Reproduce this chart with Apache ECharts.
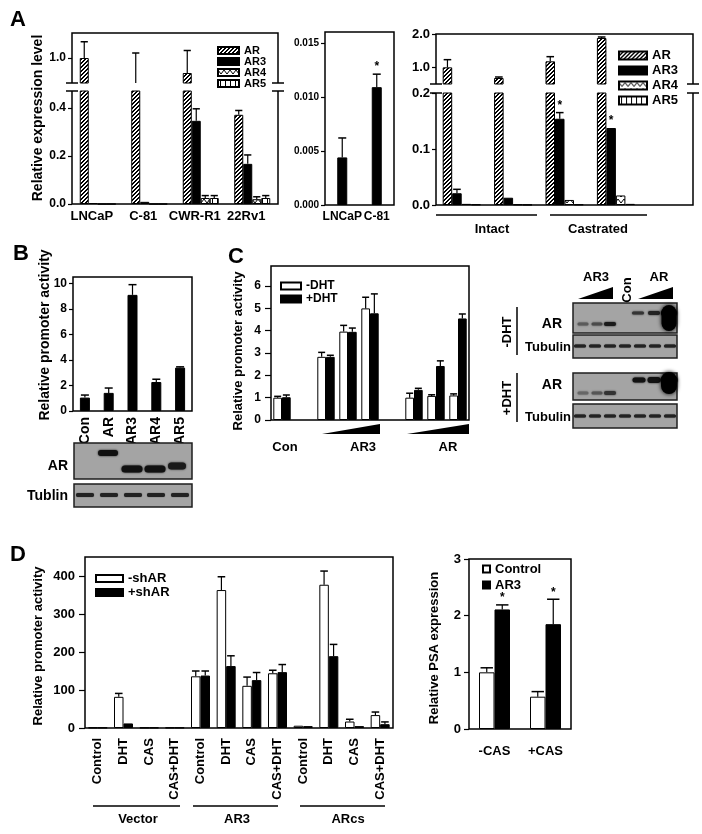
<!DOCTYPE html>
<html><head><meta charset="utf-8">
<script src="https://cdn.jsdelivr.net/npm/echarts@6/dist/echarts.min.js"></script>
<style>html,body{margin:0;padding:0;background:#fff}#c{width:702px;height:834px}</style>
</head><body><div id="c"></div><script>
// ---------------- DATA ----------------
const A1_categories = ['LNCaP', 'C-81', 'CWR-R1', '22Rv1'];
const A1_AR = [1.0, 0.80, 0.88, 0.371];
const A1_AR_err = [0.13, 0.24, 0.18, 0.018];
const A1_AR3 = [0.004, 0.009, 0.346, 0.167];
const A1_AR3_err = [0, 0, 0.05, 0.037];
const A1_AR4 = [0, 0, 0.025, 0.02];
const A1_AR4_err = [0, 0, 0.01, 0.01];
const A1_AR5 = [0, 0, 0.025, 0.025];
const A1_AR5_err = [0, 0, 0.01, 0.01];
const A1_upperTicks = [1.0];
const A1_lowerTicks = [0, 0.2, 0.4];

const A2_categories = ['LNCaP', 'C-81'];
const A2_AR3 = [0.0044, 0.0109];
const A2_AR3_err = [0.0018, 0.0012];
const A2_stars = [0, 1];
const A2_ticks = [0, 0.005, 0.010, 0.015];

const A3_categories = ['Intact-1', 'Intact-2', 'Castrated-1', 'Castrated-2', ''];
const A3_AR = [1.0, 0.68, 1.18, 1.88];
const A3_AR_err = [0.23, 0.03, 0.14, 0.03];
const A3_AR3 = [0.021, 0.013, 0.154, 0.1375];
const A3_AR3_err = [0.007, 0, 0.011, 0];
const A3_AR3_stars = [0, 0, 1, 1];
const A3_AR4 = [0.002, 0.001, 0.009, 0.017];
const A3_AR5 = [0.001, 0.0005, 0.001, 0.002];
const A3_zero = [0, 0, 0, 0];
const A3_upperTicks = [1.0, 2.0];
const A3_lowerTicks = [0, 0.1, 0.2];
const A3_groups = ['Intact', 'Castrated'];

const B_categories = ['Con', 'AR', 'AR3', 'AR4', 'AR5'];
const B_values = [1.05, 1.42, 9.1, 2.27, 3.4];
const B_err = [0.2, 0.38, 0.8, 0.22, 0.06];
const B_ticks = [0, 2, 4, 6, 8, 10];

const C_categories = ['Con', '', 'AR3-1', 'AR3-2', 'AR3-3', '', 'AR-1', 'AR-2', 'AR-3'];
const C_minusDHT = [1.0, null, 2.83, 3.96, 5.0, null, 1.0, 1.08, 1.1];
const C_minusDHT_err = [0.06, 0, 0.2, 0.28, 0.5, 0, 0.2, 0.05, 0.07];
const C_plusDHT = [1.02, null, 2.83, 3.95, 4.78, null, 1.35, 2.42, 4.55];
const C_plusDHT_err = [0.1, 0, 0.07, 0.17, 0.87, 0, 0.07, 0.23, 0.2];
const C_ticks = [0, 1, 2, 3, 4, 5, 6];

const D1_categories = ['Control', 'DHT', 'CAS', 'CAS+DHT', 'Control', 'DHT', 'CAS', 'CAS+DHT', 'Control', 'DHT', 'CAS', 'CAS+DHT'];
const D1_minusShAR = [1, 82, 1, 1, 136, 363, 111, 144, 6, 377, 17, 34];
const D1_minusShAR_err = [0, 9, 0, 0, 14, 35, 23, 8, 0, 36, 6, 8];
const D1_plusShAR = [1, 12, 1, 1, 138, 163, 126, 147, 5, 189, 5, 10];
const D1_plusShAR_err = [0, 0, 0, 0, 12, 27, 20, 20, 0, 31, 0, 6];
const D1_ticks = [0, 100, 200, 300, 400];
const D1_groups = ['Vector', 'AR3', 'ARcs'];

const D2_categories = ['-CAS', '+CAS'];
const D2_control = [1.0, 0.57];
const D2_control_err = [0.08, 0.09];
const D2_AR3 = [2.11, 1.85];
const D2_AR3_err = [0.08, 0.44];
const D2_stars = [1, 1];
const D2_ticks = [0, 1, 2, 3];

// ---------------- STYLE / LAYOUT ----------------
const F = '"Liberation Sans", Arial, Helvetica, sans-serif';
const LY = {
  a1u: {left: 72, top: 33, width: 206, height: 50},
  a1l: {left: 72, top: 91, width: 206, height: 113},
  a2:  {left: 325, top: 32, width: 69, height: 173},
  a3u: {left: 436, top: 34, width: 257, height: 50},
  a3l: {left: 436, top: 93, width: 257, height: 112},
  b:   {left: 73, top: 277, width: 119, height: 134},
  c:   {left: 271, top: 266, width: 198, height: 154},
  d1:  {left: 85, top: 557, width: 308, height: 171},
  d2:  {left: 469, top: 559, width: 102, height: 170}
};
const gridOrder = ['a1u', 'a1l', 'a2', 'a3u', 'a3l', 'b', 'c', 'd1', 'd2'];
const framed = {a2: 1, b: 1, c: 1, d1: 1, d2: 1};

function pat(w, h, draw) {
  const c = document.createElement('canvas'); c.width = w; c.height = h;
  const g = c.getContext('2d');
  g.fillStyle = '#fff'; g.fillRect(0, 0, w, h);
  g.fillStyle = '#000'; g.strokeStyle = '#000';
  draw(g);
  return {image: c, repeat: 'repeat'};
}
const PAT = {
  hatch: pat(4, 4, g => { for (let i = 0; i < 4; i++) { g.fillRect(i, 3 - i, 1, 1); g.fillRect(i, (4 - i) % 4, 1, 1); } }),
  zig: pat(6, 6, g => { g.lineWidth = 1; g.beginPath(); g.moveTo(0, 1); g.lineTo(3, 5); g.lineTo(6, 1); g.stroke(); }),
  vert: pat(5, 5, g => { g.fillRect(2, 0, 1, 5); })
};

const grids = gridOrder.map(k => Object.assign({
  show: !!framed[k], borderColor: '#000', borderWidth: 1.5, backgroundColor: 'transparent',
  containLabel: false, outerBoundsMode: 'none'
}, LY[k]));

function xAx(gi, data, label) {
  return {type: 'category', gridIndex: gi, data,
    axisLine: {show: false}, axisTick: {show: false}, splitLine: {show: false},
    axisLabel: label ? Object.assign({show: true, interval: 0, color: '#000', fontFamily: F, fontWeight: 'bold'}, label) : {show: false}};
}
function yAx(gi, o) {
  return {type: 'value', gridIndex: gi, min: o.min, max: o.max,
    splitLine: {show: false},
    axisLine: {show: false},
    axisTick: {show: true, inside: false, length: o.tl || 4, lineStyle: {color: '#000', width: 1.2}, customValues: o.cv},
    axisLabel: {show: true, margin: o.margin, color: '#000', fontFamily: F, fontWeight: 'bold', fontSize: o.fs,
      formatter: o.fmt, customValues: o.cv}};
}
const f1 = v => (+v).toFixed(1), f3 = v => (+v).toFixed(3), f0 = v => String(Math.round(v));

const xAxes = [
  xAx(0, A1_categories),
  xAx(1, A1_categories, {fontSize: 13, margin: 6, padding: [0, 12, 0, 0]}),
  xAx(2, A2_categories, {fontSize: 12, margin: 6}),
  xAx(3, A3_categories),
  xAx(4, A3_categories),
  xAx(5, B_categories, {fontSize: 14, margin: 6, rotate: 90}),
  xAx(6, C_categories),
  xAx(7, D1_categories, {fontSize: 13, margin: 10, rotate: 90}),
  xAx(8, D2_categories, {fontSize: 13, margin: 16})
];
const yAxes = [
  yAx(0, {min: 0.8, max: 1.2, cv: A1_upperTicks, fmt: f1, fs: 12, margin: 6}),
  yAx(1, {min: 0, max: 0.47, cv: A1_lowerTicks, fmt: f1, fs: 12, margin: 6}),
  yAx(2, {min: 0, max: 0.016, cv: A2_ticks, fmt: f3, fs: 10, margin: 6}),
  yAx(3, {min: 0.5, max: 2.0, cv: A3_upperTicks, fmt: f1, fs: 13, margin: 6}),
  yAx(4, {min: 0, max: 0.2, cv: A3_lowerTicks, fmt: f1, fs: 13, margin: 6}),
  yAx(5, {min: 0, max: 10.5, cv: B_ticks, fmt: f0, fs: 12, margin: 6}),
  yAx(6, {min: 0, max: 6.9, cv: C_ticks, fmt: f0, fs: 12, margin: 10, tl: 6}),
  yAx(7, {min: 0, max: 450, cv: D1_ticks, fmt: f0, fs: 13, margin: 10, tl: 6}),
  yAx(8, {min: 0, max: 3, cv: D2_ticks, fmt: f0, fs: 13, margin: 8, tl: 5})
];

function bar(name, gi, data, color, bw) {
  return {type: 'bar', name, xAxisIndex: gi, yAxisIndex: gi, data, barWidth: bw, barGap: '0%',
    clip: true, itemStyle: {color, borderColor: '#000', borderWidth: 1}, emphasis: {disabled: true}, silent: true};
}
function err(gi, vals, errs, k, n, bw, lo, hi, stars) {
  return {type: 'custom', xAxisIndex: gi, yAxisIndex: gi, clip: false, z: 5, silent: true,
    data: vals.map((v, i) => [i, v == null ? NaN : v, errs ? (errs[i] || 0) : 0, stars ? (stars[i] || 0) : 0]),
    renderItem(params, api) {
      const x = api.value(0), v = api.value(1), e = api.value(2), s = api.value(3);
      if (isNaN(v) || v < lo || v > hi) return null;
      const p0 = api.coord([x, v]), p1 = api.coord([x, v + e]);
      const cx = p0[0] + (k - (n - 1) / 2) * bw;
      const cw = bw * 0.4;
      const ch = [];
      if (e > 0) {
        ch.push({type: 'line', shape: {x1: cx, y1: p0[1], x2: cx, y2: p1[1]}, style: {stroke: '#000', lineWidth: 1.2}});
        ch.push({type: 'line', shape: {x1: cx - cw, y1: p1[1], x2: cx + cw, y2: p1[1]}, style: {stroke: '#000', lineWidth: 1.5}});
      }
      if (s) ch.push({type: 'text', style: {text: '*', x: cx, y: p1[1] - 1, align: 'center', verticalAlign: 'bottom',
        font: 'bold 12px ' + F, fill: '#000'}});
      return {type: 'group', children: ch};
    }};
}

const series = [];
// A1 (broken axis)
const A1s = [['AR', A1_AR, A1_AR_err, PAT.hatch], ['AR3', A1_AR3, A1_AR3_err, '#000'],
             ['AR4', A1_AR4, A1_AR4_err, PAT.zig], ['AR5', A1_AR5, A1_AR5_err, PAT.vert]];
[0, 1].forEach(gi => A1s.forEach(s => series.push(bar(s[0], gi, s[1], s[3], 9))));
A1s.forEach((s, k) => { series.push(err(0, s[1], s[2], k, 4, 9, 0.8, 1.2)); series.push(err(1, s[1], s[2], k, 4, 9, 0, 0.47)); });
// A2
series.push(bar('AR3', 2, A2_AR3, '#000', 10));
series.push(err(2, A2_AR3, A2_AR3_err, 0, 1, 10, 0, 1, A2_stars));
// A3 (broken axis)
const A3s = [['AR', A3_AR, A3_AR_err, PAT.hatch, null], ['AR3', A3_AR3, A3_AR3_err, '#000', A3_AR3_stars],
             ['AR4', A3_AR4, A3_zero, PAT.zig, null], ['AR5', A3_AR5, A3_zero, PAT.vert, null]];
[3, 4].forEach(gi => A3s.forEach(s => series.push(bar(s[0], gi, s[1], s[3], 9.5))));
A3s.forEach((s, k) => { series.push(err(3, s[1], s[2], k, 4, 9.5, 0.5, 2.0, s[4])); series.push(err(4, s[1], s[2], k, 4, 9.5, 0, 0.2, s[4])); });
// B
series.push(bar('Promoter activity', 5, B_values, '#000', 10));
series.push(err(5, B_values, B_err, 0, 1, 10, 0, 100));
// C
series.push(bar('-DHT', 6, C_minusDHT, '#fff', 8.7));
series.push(bar('+DHT', 6, C_plusDHT, '#000', 8.7));
series.push(err(6, C_minusDHT, C_minusDHT_err, 0, 2, 8.7, 0, 100));
series.push(err(6, C_plusDHT, C_plusDHT_err, 1, 2, 8.7, 0, 100));
// D1
series.push(bar('-shAR', 7, D1_minusShAR, '#fff', 9.5));
series.push(bar('+shAR', 7, D1_plusShAR, '#000', 9.5));
series.push(err(7, D1_minusShAR, D1_minusShAR_err, 0, 2, 9.5, 0, 1000));
series.push(err(7, D1_plusShAR, D1_plusShAR_err, 1, 2, 9.5, 0, 1000));
// D2
series.push(bar('Control', 8, D2_control, '#fff', 15.5));
series.push(bar('AR3', 8, D2_AR3, '#000', 15.5));
series.push(err(8, D2_control, D2_control_err, 0, 2, 15.5, 0, 100));
series.push(err(8, D2_AR3, D2_AR3_err, 1, 2, 15.5, 0, 100, D2_stars));

function lg(data, o) {
  return Object.assign({data, orient: 'vertical', icon: 'rect', selectedMode: false, padding: 0,
    textStyle: {fontFamily: F, fontWeight: 'bold', color: '#000', fontSize: o.fs, lineHeight: o.lh}}, o.pos);
}
const legends = [
  lg(['AR', 'AR3', 'AR4', 'AR5'], {fs: 11, lh: 10, pos: {left: 217, top: 45, itemWidth: 21, itemHeight: 7, itemGap: 0}}),
  lg(['AR', 'AR3', 'AR4', 'AR5'], {fs: 13, lh: 13, pos: {left: 618, top: 49, itemWidth: 28, itemHeight: 8, itemGap: 2}}),
  lg(['-DHT', '+DHT'], {fs: 12, lh: 12, pos: {left: 280, top: 280, itemWidth: 20, itemHeight: 7, itemGap: 1}}),
  lg(['-shAR', '+shAR'], {fs: 13, lh: 13, pos: {left: 95, top: 572, itemWidth: 27, itemHeight: 7, itemGap: 1}}),
  lg(['Control', 'AR3'], {fs: 13, lh: 14, pos: {left: 482, top: 562, itemWidth: 7, itemHeight: 7, itemGap: 2}})
];

// ---------------- GRAPHIC (frames, labels, blots) ----------------
const G = [];
function ln(x1, y1, x2, y2, w) { return {type: 'line', z: 100, shape: {x1, y1, x2, y2}, style: {stroke: '#000', lineWidth: w || 1.5}}; }
function tx(text, x, y, size, o) {
  o = o || {};
  return {type: 'text', z: 100, x, y, rotation: o.rot || 0,
    style: {text, x: 0, y: 0, font: 'bold ' + size + 'px ' + F, fill: '#000', align: o.align || 'center', verticalAlign: 'middle'}};
}
function poly(points, fill) { return {type: 'polygon', z: 100, shape: {points}, style: {fill: fill || '#000'}}; }
function brokenFrame(u, l) {
  const L = u.left, R = u.left + u.width, T = u.top, Bu = u.top + u.height, Tl = l.top, B = l.top + l.height;
  G.push({type: 'polyline', z: 100, shape: {points: [[L, Bu], [L, T], [R, T], [R, Bu]]}, style: {stroke: '#000', fill: 'none', lineWidth: 1.5}});
  G.push({type: 'polyline', z: 100, shape: {points: [[L, Tl], [L, B], [R, B], [R, Tl]]}, style: {stroke: '#000', fill: 'none', lineWidth: 1.5}});
  [L, R].forEach(x => { G.push(ln(x - 6, Bu, x + 6, Bu)); G.push(ln(x - 6, Tl, x + 6, Tl)); });
}
brokenFrame(LY.a1u, LY.a1l);
brokenFrame(LY.a3u, LY.a3l);
const R90 = Math.PI / 2;
// panel letters
G.push(tx('A', 18, 20, 22), tx('B', 21, 254, 22), tx('C', 236, 257, 22), tx('D', 18, 555, 22));
// axis names
G.push(tx('Relative expression level', 38, 118, 14, {rot: R90}));
G.push(tx('Relative promoter activity', 45, 335, 14, {rot: R90}));
G.push(tx('Relative promoter activity', 238, 351, 13, {rot: R90}));
G.push(tx('Relative promoter activity', 38, 646, 13, {rot: R90}));
G.push(tx('Relative PSA expression', 434, 648, 13, {rot: R90}));
// A3 group labels
G.push(ln(436, 215, 537, 215), ln(550, 215, 647, 215));
G.push(tx(A3_groups[0], 492, 229, 13), tx(A3_groups[1], 598, 229, 13));
// C x labels and wedges
G.push(tx('Con', 285, 447, 13), tx('AR3', 363, 447, 13), tx('AR', 448, 447, 13));
G.push(poly([[322, 434], [380, 434], [380, 424]]), poly([[407, 434], [469, 434], [469, 424]]));
// D group labels
G.push(ln(93, 806, 180, 806), ln(193, 806, 278, 806), ln(300, 806, 385, 806));
G.push(tx(D1_groups[0], 138, 819, 13), tx(D1_groups[1], 237, 819, 13), tx(D1_groups[2], 348, 819, 13));

// blots
function box(x, y, w, h) { return {type: 'rect', z: 10, shape: {x, y, width: w, height: h}, style: {fill: '#a4a4a4', stroke: '#1e1e1e', lineWidth: 1.5}}; }
function band(cx, cy, w, h, color, blur) {
  return {type: 'rect', z: 11, shape: {x: cx - w / 2, y: cy - h / 2, width: w, height: h, r: Math.min(h, w) / 2},
    style: {fill: color, shadowBlur: blur == null ? 2 : blur, shadowColor: color}};
}
// B blot
G.push(box(74, 443, 118, 36));
G.push(band(108, 453, 20, 6, '#111'), band(132, 469, 21, 7, '#111'), band(155, 469, 21, 7, '#111'), band(177, 466, 18, 7, '#1a1a1a'));
G.push(box(74, 484, 118, 23));
[85, 109, 133, 156, 180].forEach(x => G.push(band(x, 495, 18, 4, '#222', 1)));
G.push(tx('AR', 68, 466, 14, {align: 'right'}), tx('Tublin', 68, 496, 14, {align: 'right'}));
// C blots
const lanes = [580, 595, 610, 625, 640, 655, 670];
G.push(box(573, 303, 104, 30));
G.push(band(583, 324, 11, 3, '#5a5a5a'), band(597, 324, 11, 3, '#4a4a4a'), band(610, 324, 12, 4, '#1a1a1a'));
G.push(band(638, 313, 12, 3, '#333'), band(654, 313, 12, 4, '#222'), band(669, 318, 15, 26, '#000', 4), band(669, 313, 16, 6, '#000'));
G.push(box(573, 335, 104, 23));
lanes.forEach(x => G.push(band(x, 346, 12, 3, '#222', 1)));
G.push(box(573, 373, 104, 27));
G.push(band(583, 393, 11, 3, '#666'), band(597, 393, 11, 3, '#555'), band(610, 393, 12, 4, '#333'));
G.push(band(639, 380, 13, 5, '#111'), band(654, 380, 13, 6, '#111'), band(669, 383, 16, 22, '#000', 4), band(669, 380, 17, 7, '#000'));
G.push(box(573, 404, 104, 24));
lanes.forEach(x => G.push(band(x, 416, 12, 3, '#222', 1)));
G.push(tx('AR', 562, 324, 14, {align: 'right'}), tx('Tubulin', 571, 347, 13, {align: 'right'}));
G.push(tx('AR', 562, 385, 14, {align: 'right'}), tx('Tubulin', 571, 417, 13, {align: 'right'}));
G.push(tx('-DHT', 507, 332, 13, {rot: R90}), tx('+DHT', 507, 398, 13, {rot: R90}));
G.push(ln(517, 307, 517, 355), ln(517, 373, 517, 422));
G.push(tx('AR3', 596, 277, 13), tx('Con', 627, 290, 13, {rot: R90}), tx('AR', 659, 277, 13));
G.push(poly([[578, 299], [613, 299], [613, 287]]), poly([[638, 299], [673, 299], [673, 287]]));

const chart = echarts.init(document.getElementById('c'), null, {renderer: 'canvas'});
chart.setOption({
  animation: false,
  backgroundColor: '#fff',
  grid: grids,
  xAxis: xAxes,
  yAxis: yAxes,
  legend: legends,
  series,
  graphic: {elements: G}
});
</script></body></html>
